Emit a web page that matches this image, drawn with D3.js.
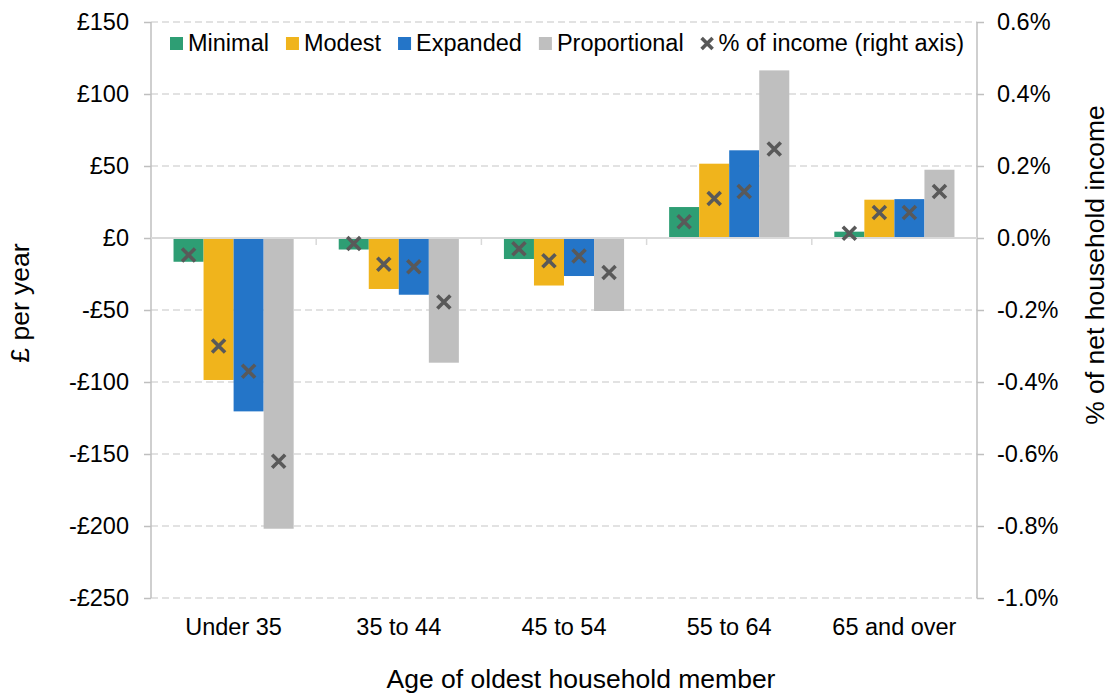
<!DOCTYPE html>
<html>
<head>
<meta charset="utf-8">
<script src="https://cdn.jsdelivr.net/npm/d3@7"></script>
<style>
  body { margin: 0; background: #fff; }
  svg text { font-family: "Liberation Sans", Arial, sans-serif; fill: #000; }
</style>
</head>
<body>
<div id="chart"></div>
<script>
// values
var categories = ["Under 35", "35 to 44", "45 to 54", "55 to 64", "65 and over"];
var seriesNames = ["Minimal", "Modest", "Expanded", "Proportional"];
var minimal = [-16.5, -8, -14.6, 21.5, 4.4];
var modest = [-98.6, -35.4, -33, 51.6, 26.6];
var expanded = [-120.4, -39.4, -26.4, 60.9, 27];
var proportional = [-201.9, -86.6, -50.7, 116.4, 47.4];
// % of net household income (right axis), one per bar
var minimalPct = [-0.047, -0.015, -0.03, 0.045, 0.013];
var modestPct = [-0.30, -0.073, -0.063, 0.11, 0.071];
var expandedPct = [-0.37, -0.08, -0.05, 0.129, 0.071];
var proportionalPct = [-0.62, -0.178, -0.096, 0.247, 0.129];
var leftTicks = [150, 100, 50, 0, -50, -100, -150, -200, -250];
var rightTicks = [0.6, 0.4, 0.2, 0.0, -0.2, -0.4, -0.6, -0.8, -1.0];

var colors = ["#2e9e74", "#f0b41c", "#2475c8", "#bfbfbf"];
var values = [minimal, modest, expanded, proportional];
var pcts = [minimalPct, modestPct, expandedPct, proportionalPct];

var width = 1110, height = 693;
var margin = {top: 22, right: 133, bottom: 95, left: 151};

var svg = d3.select("#chart").append("svg")
        .attr("width", width)
        .attr("height", height);

var x = d3.scaleBand()
        .domain(categories)
        .range([margin.left, width - margin.right])
        .paddingInner(0)
        .paddingOuter(0);

var inner = d3.scaleBand()
        .domain(seriesNames)
        .range([0, x.bandwidth()])
        .paddingOuter(0.75)
        .paddingInner(0);

var y = d3.scaleLinear()
        .domain([-250, 150])
        .range([height - margin.bottom, margin.top]);

var y2 = d3.scaleLinear()
        .domain([-1.0, 0.6])
        .range([height - margin.bottom, margin.top]);

// gridlines
svg.append("g")
        .selectAll("line")
        .data(leftTicks.filter(function (d) { return d !== 0; }))
        .enter()
        .append("line")
        .attr("x1", margin.left)
        .attr("x2", width - margin.right)
        .attr("y1", function (d) { return y(d); })
        .attr("y2", function (d) { return y(d); })
        .attr("stroke", "#d9d9d9")
        .attr("stroke-width", 1.5)
        .attr("stroke-dasharray", "7,4");

// left axis
var yAxis = svg.append("g")
        .attr("transform", "translate(" + margin.left + ",0)")
        .call(d3.axisLeft(y)
                .tickValues(leftTicks)
                .tickSize(7)
                .tickPadding(15)
                .tickFormat(function (d) {
                    return (d < 0 ? "-£" : "£") + Math.abs(d);
                }));

// right axis
var yAxis2 = svg.append("g")
        .attr("transform", "translate(" + (width - margin.right) + ",0)")
        .call(d3.axisRight(y2)
                .tickValues(rightTicks)
                .tickSize(7)
                .tickPadding(13)
                .tickFormat(function (d) {
                    return (d < 0 ? "-" : "") + Math.abs(d).toFixed(1) + "%";
                }));

[yAxis, yAxis2].forEach(function (a) {
    a.select(".domain").attr("stroke", "#bfbfbf").attr("stroke-width", 1.5)
            .attr("d", "M0," + margin.top + "V" + (height - margin.bottom));
    a.selectAll(".tick line").attr("stroke", "#bfbfbf").attr("stroke-width", 1.5);
    a.selectAll(".tick text").attr("font-size", "23.5px").attr("fill", "#000");
});

// bars
var groups = svg.append("g")
        .selectAll("g")
        .data(categories)
        .enter()
        .append("g")
        .attr("transform", function (d) {
            return "translate(" + x(d) + ",0)";
        });

groups.selectAll("rect")
        .data(function (d, i) {
            return seriesNames.map(function (s, j) {
                return {series: s, value: values[j][i], color: colors[j]};
            });
        })
        .enter()
        .append("rect")
        .attr("x", function (d) { return inner(d.series); })
        .attr("width", inner.bandwidth())
        .attr("y", function (d) { return y(Math.max(0, d.value)); })
        .attr("height", function (d) { return Math.abs(y(d.value) - y(0)); })
        .attr("fill", function (d) { return d.color; });

// zero line with category ticks
svg.append("line")
        .attr("x1", margin.left)
        .attr("x2", width - margin.right)
        .attr("y1", y(0))
        .attr("y2", y(0))
        .attr("stroke", "#d9d9d9")
        .attr("stroke-width", 2);

svg.append("g")
        .selectAll("line")
        .data(categories.slice(1))
        .enter()
        .append("line")
        .attr("x1", function (d) { return x(d); })
        .attr("x2", function (d) { return x(d); })
        .attr("y1", y(0))
        .attr("y2", y(0) + 7)
        .attr("stroke", "#d9d9d9")
        .attr("stroke-width", 1.5);

// crosses on right axis
function cross(sel, size) {
    sel.append("path")
            .attr("d", "M" + (-size) + "," + (-size) + "L" + size + "," + size +
                    "M" + (-size) + "," + size + "L" + size + "," + (-size))
            .attr("stroke", "#595959")
            .attr("stroke-width", 3.6)
            .attr("fill", "none");
}

var crossGroups = svg.append("g")
        .selectAll("g")
        .data(categories)
        .enter()
        .append("g")
        .attr("transform", function (d) {
            return "translate(" + x(d) + ",0)";
        });

crossGroups.selectAll("g.cross")
        .data(function (d, i) {
            return seriesNames.map(function (s, j) {
                return {series: s, pct: pcts[j][i]};
            });
        })
        .enter()
        .append("g")
        .attr("class", "cross")
        .attr("transform", function (d) {
            return "translate(" + (inner(d.series) + inner.bandwidth() / 2) + "," + y2(d.pct) + ")";
        })
        .call(cross, 6.5);

// x tick labels
svg.append("g")
        .selectAll("text")
        .data(categories)
        .enter()
        .append("text")
        .attr("x", function (d) { return x(d) + x.bandwidth() / 2; })
        .attr("y", 635)
        .attr("text-anchor", "middle")
        .attr("font-size", "23.5px")
        .text(function (d) { return d; });

// axis titles
svg.append("text")
        .attr("x", 581)
        .attr("y", 688)
        .attr("text-anchor", "middle")
        .attr("font-size", "26.5px")
        .text("Age of oldest household member");

svg.append("text")
        .attr("transform", "translate(29,303) rotate(-90)")
        .attr("text-anchor", "middle")
        .attr("font-size", "26.5px")
        .text("£ per year");

svg.append("text")
        .attr("transform", "translate(1104,265) rotate(-90)")
        .attr("text-anchor", "middle")
        .attr("font-size", "26.5px")
        .text("% of net household income");

// legend
var legendItems = seriesNames.map(function (s, j) {
    return {name: s, color: colors[j]};
});
legendItems.push({name: "% of income (right axis)", color: null});

var lx = 170;
legendItems.forEach(function (d) {
    var g = svg.append("g").attr("transform", "translate(" + lx + ",0)");
    if (d.color) {
        g.append("rect")
                .attr("x", 0)
                .attr("y", 37)
                .attr("width", 13)
                .attr("height", 13)
                .attr("fill", d.color);
    } else {
        g.append("g").attr("transform", "translate(6.5,43.5)").call(cross, 5.5);
    }
    var t = g.append("text")
            .attr("x", 18)
            .attr("y", 51)
            .attr("font-size", "23.5px")
            .text(d.name);
    lx += 18 + t.node().getComputedTextLength() + 17;
});
</script>
</body>
</html>
